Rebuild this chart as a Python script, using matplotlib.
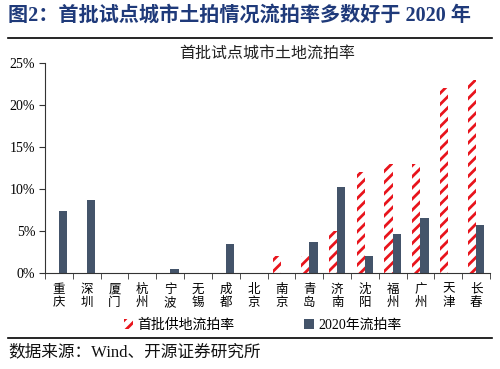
import matplotlib
matplotlib.use("Agg")
import matplotlib.pyplot as plt
import numpy as np

plt.rcParams['font.family'] = ['Liberation Serif', 'Noto Sans CJK SC', 'DejaVu Sans']
plt.rcParams['hatch.linewidth'] = 2.0

cities = ['重庆', '深圳', '厦门', '杭州', '宁波', '无锡', '成都', '北京',
          '南京', '青岛', '济南', '沈阳', '福州', '广州', '天津', '长春']
first_batch = [0, 0, 0, 0, 0, 0, 0, 0, 2.0, 2.0, 5.0, 12.0, 13.0, 13.0, 22.0, 23.0]
rate_2020 = [7.4, 8.7, 0, 0, 0.5, 0, 3.5, 0, 0, 3.7, 10.2, 2.0, 4.6, 6.5, 0, 5.7]
yticks = [0, 5, 10, 15, 20, 25]

red = '#e8141c'
navy = '#44546a'
title_blue = '#1f3a7a'

fig = plt.figure(figsize=(5.0, 3.69), dpi=100)
ax = fig.add_axes([0.09, 0.26, 0.89, 0.569])

x = np.arange(len(cities))
w = 0.3
b1 = ax.bar(x - w / 2, first_batch, w, facecolor='white', edgecolor=red,
            hatch='///', linewidth=0, label='首批供地流拍率')
b2 = ax.bar(x + w / 2, rate_2020, w, color=navy, label='2020年流拍率')

ax.set_xlim(-0.5, len(cities) - 0.5)
ax.set_ylim(0, 25)
ax.set_yticks(yticks)
ax.set_yticklabels(['%d%%' % v for v in yticks], fontsize=10)
ax.set_xticks(x)
ax.set_xticklabels(['\n'.join(c) for c in cities], fontsize=9,
                   family=['Noto Sans CJK SC'], linespacing=1.05)
ax.tick_params(axis='x', length=0, pad=7)
ax.set_xticks(np.arange(-0.5, len(cities), 1), minor=True)
ax.tick_params(axis='x', which='minor', length=4, direction='out', color='#333333')
ax.tick_params(axis='y', length=4, direction='out', color='#333333', pad=3)
for s in ['top', 'right']:
    ax.spines[s].set_visible(False)
ax.spines['left'].set_color('#333333')
ax.spines['bottom'].set_color('#333333')

ax.set_title('首批试点城市土地流拍率', fontsize=11.5, family=['Noto Sans CJK SC'],
             pad=4, color='#222222')

fig.legend(handles=[b1, b2], loc='center', bbox_to_anchor=(0.525, 0.118), ncol=2,
           frameon=False, handlelength=0.7, handleheight=0.7,
           columnspacing=5.0, handletextpad=0.3,
           prop={'family': ['Liberation Serif', 'Noto Sans CJK SC'], 'size': 10})

fig.text(0.016, 0.958, '图2：首批试点城市土拍情况流拍率多数好于 2020 年', fontsize=14.5,
         fontweight='bold', color=title_blue, va='center',
         family=['Liberation Serif', 'Noto Sans CJK SC'])
fig.add_artist(plt.Line2D([0.016, 0.984], [0.898, 0.898], color='black', linewidth=1.2))
fig.add_artist(plt.Line2D([0.016, 0.984], [0.084, 0.084], color='black', linewidth=1.2))
fig.text(0.016, 0.044, '数据来源：Wind、开源证券研究所', fontsize=12, va='center',
         color='#111111', family=['Liberation Serif', 'Noto Sans CJK SC'])

fig.savefig('out.png', dpi=100)
